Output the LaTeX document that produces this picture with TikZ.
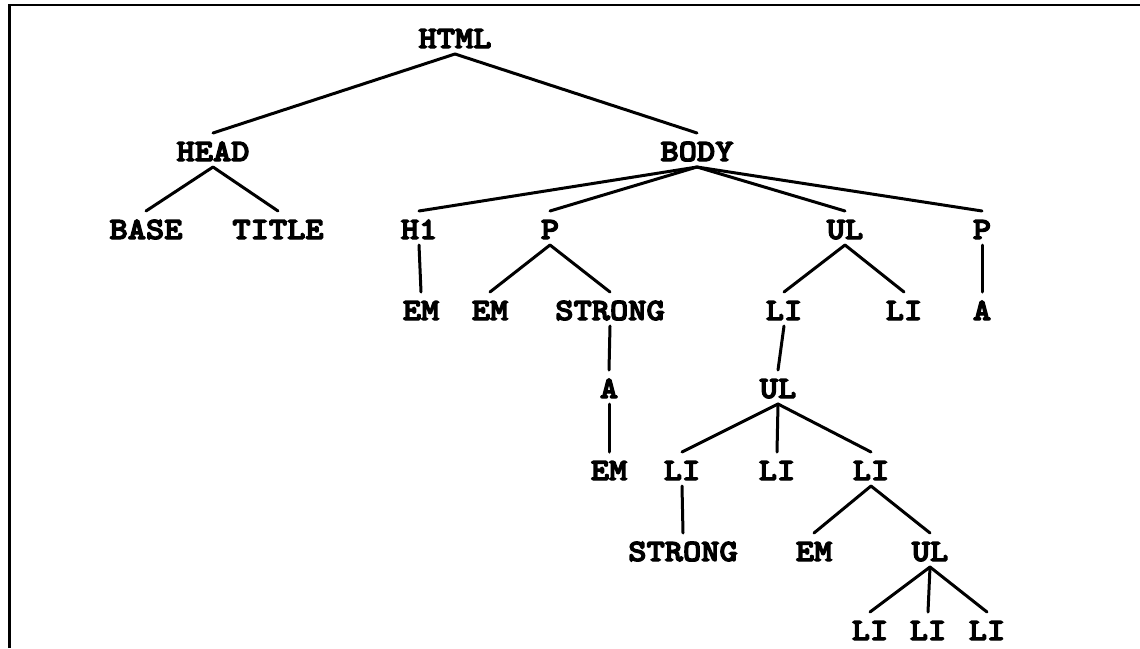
\documentclass[tikz,border=0pt]{standalone}
\usepackage{fontspec}
\newfontfamily\treefont{lmmonolt10-bold.otf}[FakeBold=4, FakeStretch=1.12]
\begin{document}
\begin{tikzpicture}[x=1pt,y=-1pt,
  tag/.style={inner sep=0pt, outer sep=0pt, anchor=south, text height=19pt, text depth=0pt,
    font=\treefont\fontsize{31}{31}\selectfont},
  edge/.style={line width=3pt, line cap=round},
  frame/.style={line width=2.8pt}]
\useasboundingbox (0,0) rectangle (1140,648);
\draw[frame] (9.5,648) -- (9.5,5) -- (1140,5);
% row 1
\node[tag] (html) at (455,48) {HTML};
% row 2
\node[tag] (head) at (213,161) {HEAD};
\node[tag] (body) at (697,161) {BODY};
% row 3
\node[tag] (base) at (146,239) {BASE};
\node[tag] (title) at (278,239) {TITLE};
\node[tag] (h1) at (419,239) {H1};
\node[tag] (p1) at (550,239) {P};
\node[tag] (ul1) at (845,239) {UL};
\node[tag] (p2) at (982,239) {P};
% row 4
\node[tag] (em1) at (421,320) {EM};
\node[tag] (em2) at (490,320) {EM};
\node[tag] (strong1) at (610,320) {STRONG};
\node[tag] (li1) at (784,320) {LI};
\node[tag] (li2) at (904,320) {LI};
\node[tag] (a1) at (982,320) {A};
% row 5
\node[tag] (a2) at (609,398) {A};
\node[tag] (ul2) at (778,398) {UL};
% row 6
\node[tag] (em3) at (609,480) {EM};
\node[tag] (li3) at (682,480) {LI};
\node[tag] (li4) at (777,480) {LI};
\node[tag] (li5) at (871,480) {LI};
% row 7
\node[tag] (strong2) at (683,561) {STRONG};
\node[tag] (em4) at (814,561) {EM};
\node[tag] (ul3) at (930,561) {UL};
% row 8
\node[tag] (li6) at (870,640) {LI};
\node[tag] (li7) at (928,640) {LI};
\node[tag] (li8) at (987,640) {LI};
% connectors
\foreach \p/\c in {html/head, html/body, head/base, head/title,
  body/h1, body/p1, body/ul1, body/p2,
  h1/em1, p1/em2, p1/strong1, ul1/li1, ul1/li2, p2/a1,
  strong1/a2, li1/ul2,
  a2/em3, ul2/li3, ul2/li4, ul2/li5,
  li3/strong2, li5/em4, li5/ul3,
  ul3/li6, ul3/li7, ul3/li8}
  \draw[edge] ([yshift=-6pt]\p.south) -- ([yshift=9pt]\c.north);
\end{tikzpicture}
\end{document}
